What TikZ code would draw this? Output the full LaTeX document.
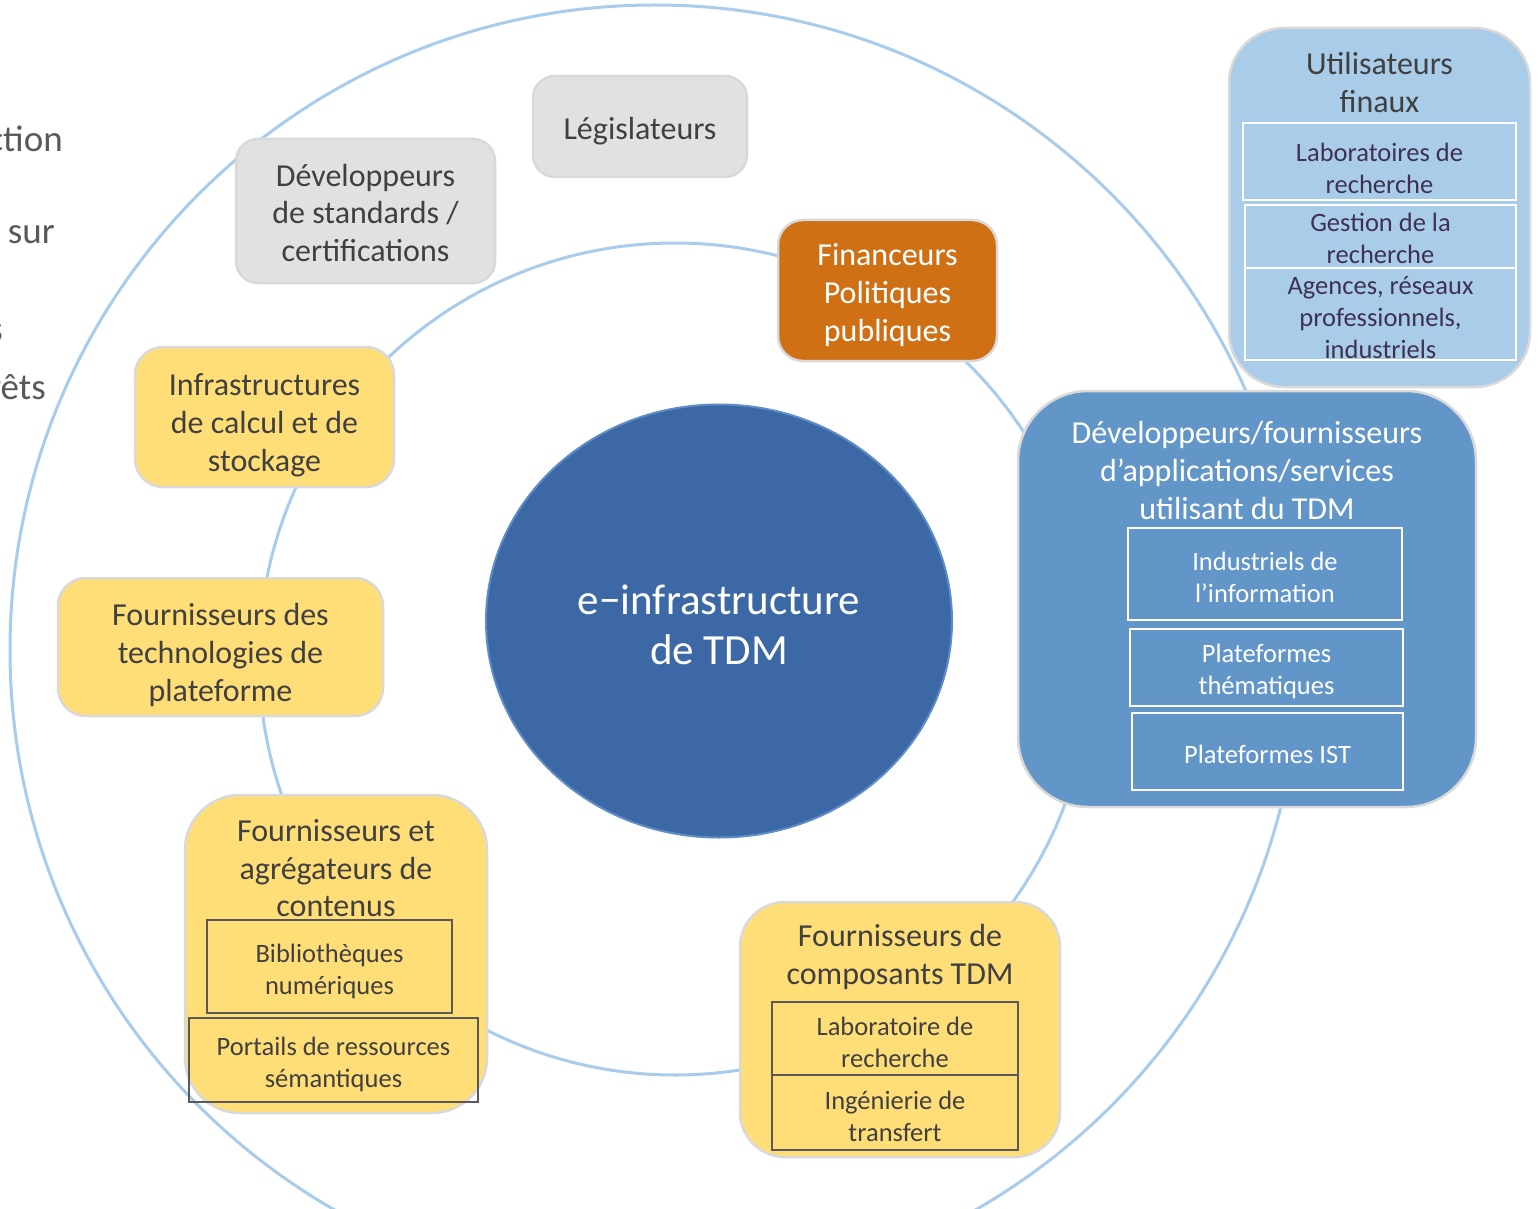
\documentclass[tikz,border=0pt]{standalone}
\usepackage{fontspec}
\setmainfont{Carlito}
\usetikzlibrary{shapes.geometric}
\usepackage{xcolor}
\definecolor{ringblue}{HTML}{A9CCEC}
\definecolor{coreblue}{HTML}{3C69A5}
\definecolor{coreline}{HTML}{5E8CC6}
\definecolor{midblue}{HTML}{6296C9}
\definecolor{paleblue}{HTML}{A9CCE9}
\definecolor{gold}{HTML}{FFDD77}
\definecolor{rust}{HTML}{D07015}
\definecolor{greybox}{HTML}{E1E1E1}
\definecolor{rim}{HTML}{D9D9D9}
\definecolor{ink}{HTML}{404040}
\definecolor{edgeink}{HTML}{595959}
\definecolor{plum}{HTML}{3E3250}
\newcommand{\bigtxt}{\fontsize{32}{37.8}\selectfont}
\newcommand{\subtxt}{\fontsize{26.5}{32}\selectfont}
\newcommand{\sidetxt}{\fontsize{37}{44}\selectfont}

\begin{document}
\begin{tikzpicture}[x=1pt,y=-1pt,
    actor/.style={draw=rim,line width=2.5pt,align=center,inner sep=0pt,font=\bigtxt,text=ink},
    grey/.style={actor,fill=greybox,rounded corners=22pt},
    yellow/.style={actor,fill=gold,rounded corners=28pt},
    part/.style={draw=edgeink,line width=2.5pt,align=center,inner sep=0pt,font=\subtxt,text=ink},
    wpart/.style={draw=white,line width=2.5pt,align=center,inner sep=0pt,font=\subtxt},
    title/.style={align=center,inner sep=0pt,font=\bigtxt},
    side/.style={anchor=east,text=edgeink,font=\sidetxt,inner sep=0pt}]
    \useasboundingbox (0,0) rectangle (1539,1209);
    \clip (0,0) rectangle (1539,1209);
    \fill[white] (0,0) rectangle (1539,1209);

    \draw[ringblue,line width=3pt] (655,650) circle [radius=645pt];
    \draw[ringblue,line width=3pt] (675,659) circle [radius=416pt];

    \node[side] (cut1) at (63,139) {ction};
    \node[side] (cut2) at (55,235) {sur};
    \node[side] (cut3) at (3,333) {s};
    \node[side] (cut4) at (46,387) {rêts};

    \node[ellipse,draw=coreline,line width=2pt,fill=coreblue,minimum width=466pt,minimum height=433pt] (core) at (719,621) {};
    \node[title,text=white,font=\fontsize{43}{50}\selectfont] (core-t) at (719,625) {e−infrastructure\\de TDM};

    \node[grey,minimum width=214pt,minimum height=101pt] (legis) at (640,126.5) {};
    \node[title,text=ink] (legis-t) at (640,131) {Législateurs};
    \node[grey,minimum width=259pt,minimum height=144pt] (stdev) at (365.5,211) {};
    \node[title,text=ink] (stdev-t) at (365.5,213) {Développeurs\\de standards /\\certifications};
    \node[actor,fill=rust,rounded corners=25pt,minimum width=219pt,minimum height=141pt] (fund) at (887.5,290.5) {};
    \node[title,text=white] (fund-t) at (887.5,295) {Financeurs\\Politiques\\publiques};
    \node[yellow,minimum width=259pt,minimum height=140pt] (infra) at (264.5,417) {};
    \node[title,text=ink] (infra-t) at (264.5,425) {Infrastructures\\de calcul et de\\stockage};
    \node[yellow,minimum width=325pt,minimum height=138pt] (platf) at (220.5,647) {};
    \node[title,text=ink] (platf-t) at (220.5,655) {Fournisseurs des\\technologies de\\plateforme};

    \node[yellow,rounded corners=55pt,minimum width=302pt,minimum height=318pt] (content) at (336,954) {};
    \node[title,text=ink,anchor=north] (content-t) at (336,819) {Fournisseurs et\\agrégateurs de\\contenus};
    \node[part,minimum width=245pt,minimum height=93pt] (biblio) at (329.5,966.5) {};
    \node[title,font=\subtxt,text=ink] (biblio-t) at (329.5,971) {Bibliothèques\\numériques};
    \node[part,minimum width=289pt,minimum height=84pt] (portal) at (333.5,1060) {};
    \node[title,font=\subtxt,text=ink] (portal-t) at (333.5,1064) {Portails de ressources\\sémantiques};

    \node[yellow,rounded corners=45pt,minimum width=320pt,minimum height=255pt] (comp) at (900,1029.5) {};
    \node[title,text=ink,anchor=north] (comp-t) at (900,924) {Fournisseurs de\\composants TDM};
    \node[part,minimum width=246pt,minimum height=73pt] (lab) at (895,1038.5) {};
    \node[title,font=\subtxt,text=ink] (lab-t) at (895,1042) {Laboratoire de\\recherche};
    \node[part,minimum width=246pt,minimum height=75pt] (transf) at (895,1112.5) {};
    \node[title,font=\subtxt,text=ink] (transf-t) at (895,1116) {Ingénierie de\\transfert};

    \node[actor,fill=paleblue,rounded corners=55pt,minimum width=301pt,minimum height=359pt] (users) at (1379.5,207.5) {};
    \node[title,text=ink,anchor=north] (users-t) at (1379.5,52) {Utilisateurs\\finaux};
    \node[wpart,minimum width=273pt,minimum height=77pt] (ulab) at (1379.5,161.5) {};
    \node[title,font=\subtxt,text=plum] (ulab-t) at (1379.5,168) {Laboratoires de\\recherche};
    \node[wpart,minimum width=271pt,minimum height=63pt] (ugest) at (1380.5,236.5) {};
    \node[title,font=\subtxt,text=plum] (ugest-t) at (1380.5,238) {Gestion de la\\recherche};
    \node[wpart,minimum width=271pt,minimum height=92pt] (uagen) at (1380.5,314) {};
    \node[title,font=\subtxt,text=plum] (uagen-t) at (1380.5,318) {Agences, réseaux\\professionnels,\\industriels};

    \node[actor,fill=midblue,rounded corners=70pt,minimum width=458pt,minimum height=416pt] (appdev) at (1247,599) {};
    \node[title,text=white,anchor=north] (appdev-t) at (1247,421) {Développeurs/fournisseurs\\d’applications/services\\utilisant du TDM};
    \node[wpart,minimum width=274pt,minimum height=92pt] (indus) at (1265,574) {};
    \node[title,font=\subtxt,text=white] (indus-t) at (1265,577) {Industriels de\\l’information};
    \node[wpart,minimum width=273pt,minimum height=77pt] (thema) at (1266.5,667.5) {};
    \node[title,font=\subtxt,text=white] (thema-t) at (1266.5,671) {Plateformes\\thématiques};
    \node[wpart,minimum width=271pt,minimum height=77pt] (ist) at (1267.5,751.5) {};
    \node[title,font=\subtxt,text=white] (ist-t) at (1267.5,754) {Plateformes IST};
\end{tikzpicture}
\end{document}
